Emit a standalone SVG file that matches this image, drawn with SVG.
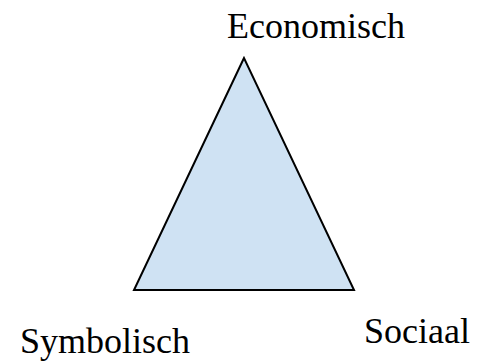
<svg xmlns="http://www.w3.org/2000/svg" width="486" height="362" viewBox="0 0 486 362">
<style>
.lbl{font-family:"Liberation Serif","Times New Roman",serif;font-size:36px;fill:#000}
</style>
<rect width="486" height="362" fill="#fff"/>
<g id="triangle">
<polygon points="244,58 134,290 354,290" fill="#cfe2f3" stroke="#000" stroke-width="2" stroke-linejoin="miter"/>
</g>
<g id="economisch"><text class="lbl" x="227" y="38">Economisch</text></g>
<g id="symbolisch"><text class="lbl" x="20" y="353">Symbolisch</text></g>
<g id="sociaal"><text class="lbl" x="364" y="343">Sociaal</text></g>
<g id="connectors"></g>
</svg>
